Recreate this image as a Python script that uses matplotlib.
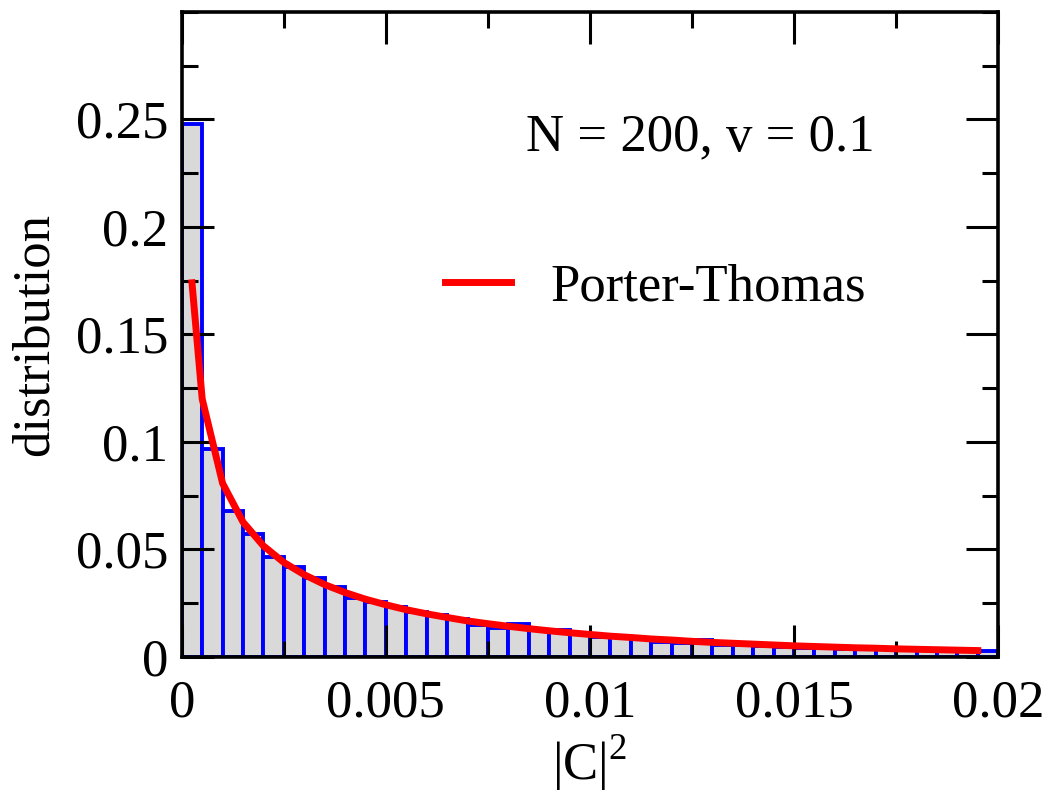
import numpy as np
import matplotlib
matplotlib.use("Agg")
import matplotlib.pyplot as plt
from matplotlib.ticker import MultipleLocator, FixedLocator

# --- data ---
BIN_WIDTH = 0.0005
bin_lefts = np.arange(40) * BIN_WIDTH
hist_heights = [
    0.248, 0.0965, 0.0678, 0.0570, 0.0466, 0.0420, 0.0366, 0.0324, 0.0273, 0.0257,
    0.0234, 0.0210, 0.0195, 0.0177, 0.0149, 0.0136, 0.0153, 0.0125, 0.0125, 0.0107,
    0.0091, 0.0094, 0.0082, 0.0071, 0.0064, 0.0076, 0.0056, 0.0053, 0.0050, 0.0045,
    0.0042, 0.0040, 0.0038, 0.0036, 0.0036, 0.0034, 0.0032, 0.0030, 0.0028, 0.0029,
]

pt_x = [0.00025, 0.0005, 0.001, 0.0015, 0.002, 0.0025, 0.003, 0.0035, 0.004, 0.0045,
        0.005, 0.0055, 0.006, 0.0065, 0.007, 0.0075, 0.008, 0.0085, 0.009, 0.0095,
        0.01, 0.0105, 0.011, 0.0115, 0.012, 0.0125, 0.013, 0.0135, 0.014, 0.0145,
        0.015, 0.0155, 0.016, 0.0165, 0.017, 0.0175, 0.018, 0.0185, 0.019, 0.0195]
pt_y = [0.174, 0.120, 0.0807, 0.0627, 0.0516, 0.0439, 0.0382, 0.0336, 0.0299, 0.0268,
        0.0242, 0.0219, 0.0200, 0.0183, 0.0167, 0.0154, 0.0142, 0.0131, 0.0121, 0.0112,
        0.0104, 0.0096, 0.0090, 0.0083, 0.0078, 0.0072, 0.0067, 0.0063, 0.0059, 0.0055,
        0.0051, 0.0048, 0.0045, 0.0042, 0.0040, 0.0037, 0.0035, 0.0033, 0.0031, 0.0029]

x_ticks = [0, 0.005, 0.01, 0.015, 0.02]
x_tick_labels = ["0", "0.005", "0.01", "0.015", "0.02"]
y_ticks = [0, 0.05, 0.1, 0.15, 0.2, 0.25]
y_tick_labels = ["0", "0.05", "0.1", "0.15", "0.2", "0.25"]

plt.rcParams['font.family'] = ['Liberation Serif', 'DejaVu Serif']
plt.rcParams['mathtext.fontset'] = 'custom'
plt.rcParams['mathtext.rm'] = 'Liberation Serif'
FS = 38

fig = plt.figure(figsize=(10.63, 8.0), dpi=100)
ax = fig.add_axes([0.171, 0.179, 0.768, 0.806])

# histogram boxes: grey fill, blue outline
ax.bar(bin_lefts, hist_heights, width=BIN_WIDTH, align='edge',
       color='#d9d9d9', edgecolor='#0000ff', linewidth=2.8, zorder=1)

# Porter-Thomas curve
ax.plot(pt_x, pt_y, color='#ff0000', linewidth=5, zorder=3, label='Porter-Thomas')

ax.set_xlim(0, 0.02)
ax.set_ylim(0, 0.3)

ax.xaxis.set_major_locator(FixedLocator(x_ticks))
ax.set_xticklabels(x_tick_labels)
ax.xaxis.set_minor_locator(MultipleLocator(0.0025))
ax.yaxis.set_major_locator(FixedLocator(y_ticks))
ax.set_yticklabels(y_tick_labels)
ax.yaxis.set_minor_locator(MultipleLocator(0.025))

ax.tick_params(which='both', direction='in', top=True, right=True, width=2.2,
               labelsize=FS)
ax.tick_params(which='major', length=23)
ax.tick_params(which='minor', length=11.5)
ax.tick_params(axis='x', pad=16)
ax.tick_params(axis='y', pad=10)

for s in ax.spines.values():
    s.set_linewidth(2.6)

ax.set_xlabel(r'$|\mathrm{C}|^2$', fontsize=FS, labelpad=4)
ax.set_ylabel('distribution', fontsize=FS, labelpad=12)

ax.text(0.0127, 0.2416, 'N = 200, v = 0.1', fontsize=FS, ha='center', va='center')

leg = ax.legend(loc='center left', bbox_to_anchor=(0.00645, 0.172), bbox_transform=ax.transData,
                fontsize=FS, frameon=False, handlelength=1.25, handletextpad=0.75,
                borderpad=0, borderaxespad=0)

fig.savefig('out.png', dpi=100)
